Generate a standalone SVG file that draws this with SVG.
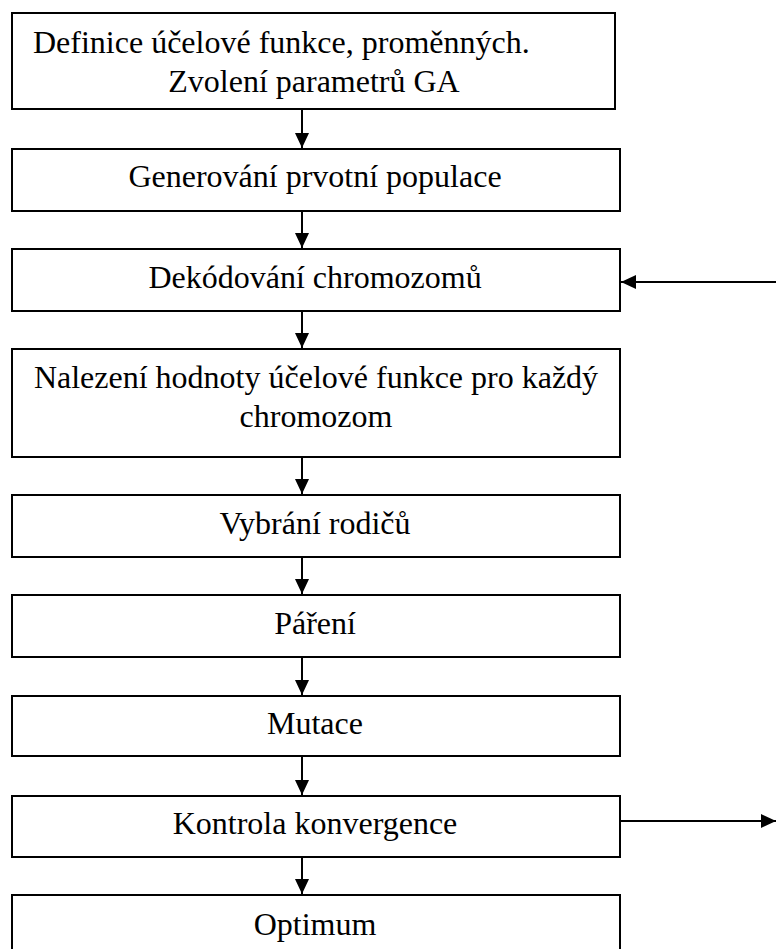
<svg xmlns="http://www.w3.org/2000/svg" width="776" height="949" viewBox="0 0 776 949">
<style>
.box{fill:#fff;stroke:#000;stroke-width:2}
.t{font-family:"Liberation Serif","Times New Roman",serif;font-size:32px;fill:#000}
.c{text-anchor:middle}
.con{stroke:#000;stroke-width:2;fill:none;marker-end:url(#ah)}
</style>
<defs>
<marker id="ah" viewBox="0 0 15 14" refX="15" refY="7" markerWidth="15" markerHeight="14" markerUnits="userSpaceOnUse" orient="auto">
<path d="M0,0 L15,7 L0,14 z" fill="#000"/>
</marker>
</defs>
<rect width="776" height="949" fill="#fff"/>
<g id="n1"><rect class="box" x="12" y="13" width="603" height="96"/>
<text class="t" x="33" y="53">Definice účelové funkce, proměnných.</text>
<text class="t c" x="314" y="92">Zvolení parametrů GA</text></g>
<g id="n2"><rect class="box" x="12" y="149" width="608" height="62"/>
<text class="t c" x="315" y="187">Generování prvotní populace</text></g>
<g id="n3"><rect class="box" x="12" y="249" width="608" height="62"/>
<text class="t c" x="315" y="288">Dekódování chromozomů</text></g>
<g id="n4"><rect class="box" x="12" y="349" width="608" height="108"/>
<text class="t c" x="316" y="388">Nalezení hodnoty účelové funkce pro každý</text>
<text class="t c" x="316" y="427">chromozom</text></g>
<g id="n5"><rect class="box" x="12" y="495" width="608" height="62"/>
<text class="t c" x="315" y="534">Vybrání rodičů</text></g>
<g id="n6"><rect class="box" x="12" y="595" width="608" height="62"/>
<text class="t c" x="315" y="634">Páření</text></g>
<g id="n7"><rect class="box" x="12" y="696" width="608" height="60"/>
<text class="t c" x="315" y="734">Mutace</text></g>
<g id="n8"><rect class="box" x="12" y="796" width="608" height="61"/>
<text class="t c" x="315" y="834">Kontrola konvergence</text></g>
<g id="n9"><rect class="box" x="12" y="895" width="608" height="62"/>
<text class="t c" x="315" y="935">Optimum</text></g>
<g id="connectors">
<line class="con" x1="302" y1="109" x2="302" y2="148"/>
<line class="con" x1="302" y1="211" x2="302" y2="248"/>
<line class="con" x1="302" y1="311" x2="302" y2="348"/>
<line class="con" x1="302" y1="457" x2="302" y2="494"/>
<line class="con" x1="302" y1="557" x2="302" y2="594"/>
<line class="con" x1="302" y1="657" x2="302" y2="695"/>
<line class="con" x1="302" y1="756" x2="302" y2="795"/>
<line class="con" x1="302" y1="857" x2="302" y2="894"/>
<line class="con" x1="776" y1="282" x2="621" y2="282"/>
<line class="con" x1="620" y1="821" x2="776" y2="821"/>
</g>
</svg>
